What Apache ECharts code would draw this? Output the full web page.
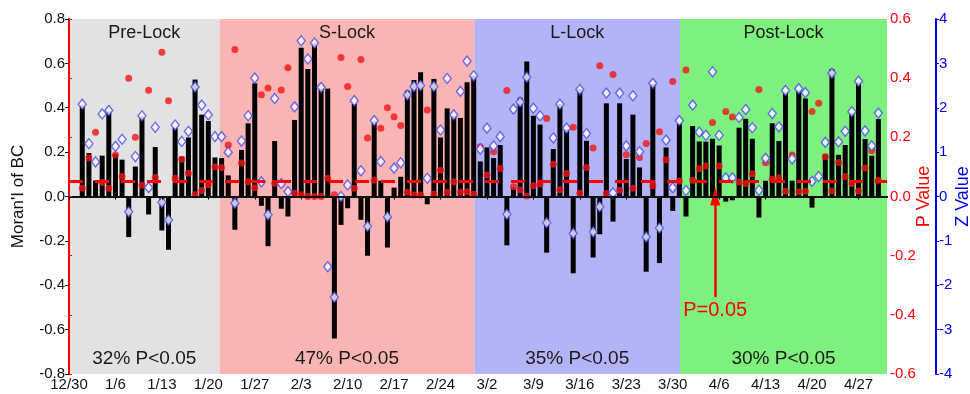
<!DOCTYPE html>
<html><head><meta charset="utf-8">
<script src="https://cdn.jsdelivr.net/npm/echarts@6/dist/echarts.min.js"></script>
<style>html,body{margin:0;padding:0;background:#fff}#c{width:970px;height:394px}</style>
</head><body><div id="c"></div>
<script>
// x positions are days since 12/30; first observation (1/1) is day 2
const firstDay = 2;
const tickLabels = ['12/30','1/6','1/13','1/20','1/27','2/3','2/10','2/17','2/24','3/2','3/9','3/16','3/23','3/30','4/6','4/13','4/20','4/27'];
const moranI = [0.41,0.196,0.072,0.184,0.384,0.193,0.166,-0.183,0.135,0.36,-0.081,0.223,-0.153,-0.24,0.31,0.18,0.266,0.527,0.369,0.34,
 0.176,0.173,0.095,-0.15,0.21,0.33,0.51,-0.042,-0.224,0.25,-0.055,-0.09,0.345,0.67,0.575,0.69,0.486,0.486,-0.64,-0.128,
 -0.053,0.417,-0.105,-0.267,0.339,0.071,-0.23,0.04,0.089,0.477,0.525,0.56,-0.035,0.53,0.266,0.397,0.364,0.354,0.515,0.545,
 0.158,0.221,0.173,0.232,-0.22,0.04,0.445,0.608,0.364,0.324,-0.253,0.214,0.417,0.304,-0.346,0.485,0.251,-0.275,-0.17,0.42,
 -0.113,0.42,0.169,0.369,0.131,-0.339,0.507,-0.30,0.221,-0.065,0.327,-0.09,0.318,0.248,0.247,0.26,0.23,-0.023,-0.017,0.31,
 0.35,0.26,-0.095,0.071,0.33,0.25,0.47,0.071,0.478,0.442,-0.05,0,0.191,0.575,0.188,0.232,0.376,0.515,0.259,0.184,0.349];
const pValue = [0.028,0.13,0.217,0.047,0.028,0.14,0.068,0.40,0.20,0.038,0.359,0.064,0.488,0.324,0.062,0.126,0.079,0.006,0.02,0.04,
 0.10,0.098,0.174,0.497,0.113,0.05,0.03,0.344,0.367,0.045,0.36,0.435,0.011,0.006,0.0,0.0,0.0,0.062,0.006,0.47,
 0.372,0.028,0.463,0.198,0.055,0.231,0.30,0.27,0.24,0.014,0.005,0.005,0.292,0.008,0.089,0.014,0.05,0.014,0.016,0.008,
 0.168,0.073,0.151,0.095,0.358,0.033,0.022,0.002,0.036,0.042,0.264,0.109,0.023,0.078,0.234,0.011,0.098,0.164,0.442,0.01,
 0.412,0.021,0.141,0.028,0.132,0.179,0.036,0.219,0.124,0.389,0.052,0.428,0.055,0.094,0.103,0.25,0.103,0.287,0.269,0.049,
 0.044,0.077,0.362,0.114,0.058,0.063,0.018,0.14,0.016,0.018,0.287,0.315,0.134,0.019,0.115,0.068,0.044,0.019,0.096,0.155,0.055];
const zValue = [2.08,1.19,0.78,1.86,1.94,1.13,1.29,-0.345,0.90,1.82,0.2,1.56,-0.13,-0.53,1.61,1.24,1.47,2.47,2.06,1.84,
 1.35,1.35,1.0,-0.15,1.25,1.82,2.67,0.33,-0.41,2.21,0.29,0.11,2.02,3.51,3.1,3.46,2.46,-1.58,-2.27,0.0,
 0.26,2.16,0.58,-0.67,1.71,0.79,-0.46,0.64,0.76,2.29,2.48,2.5,0.41,2.48,1.5,2.66,1.84,2.37,3.05,2.72,
 1.07,1.54,1.14,1.35,-0.4,1.97,2.13,2.69,1.99,1.82,-0.59,1.32,2.08,1.54,-0.83,2.41,1.42,-0.8,-0.23,2.33,
 0.08,2.33,1.14,2.27,1.01,-0.91,2.55,-0.71,1.27,0.2,1.71,0.135,2.06,1.45,1.38,2.81,1.38,0.42,0.42,1.78,
 1.96,1.55,0.14,0.86,1.87,1.57,2.39,0.85,2.43,2.34,0.34,0.45,1.22,2.78,1.23,1.47,1.91,2.6,1.48,1.14,1.88];
const regionNames = ['Pre-Lock','S-Lock','L-Lock','Post-Lock'];
const regionStats = ['32% P<0.05','47% P<0.05','35% P<0.05','30% P<0.05'];
const regionBounds = [0, 22.7, 61.1, 92.1, 123.3];
const pThreshold = 0.05;
const arrowDay = 97.4, arrowFromP = -0.34, arrowToP = 0.0;

const regionColors = ['#e2e2e2','#f9b4b4','#b3b3f7','#7ef07e'];
const FONT = 'Liberation Sans, Arial, sans-serif';
const xMin = regionBounds[0], xMax = regionBounds[regionBounds.length-1];

const chart = echarts.init(document.getElementById('c'), null, {renderer:'canvas'});
const toXY = arr => arr.map((v,i)=>[firstDay+i, v]);
const areaData = regionNames.map((n,i)=>[
  {name:n, xAxis:regionBounds[i], itemStyle:{color:regionColors[i]}},
  {xAxis:regionBounds[i+1]}
]);
const statData = regionStats.map((n,i)=>[{name:n, xAxis:regionBounds[i]},{xAxis:regionBounds[i+1]}]);

chart.setOption({
  animation:false,
  textStyle:{fontFamily:FONT},
  grid:{left:69, right:83, top:19, bottom:20, containLabel:false, outerBoundsMode:'none'},
  xAxis:[{
    type:'value', min:xMin, max:xMax, interval:7, z:10,
    axisLine:{lineStyle:{color:'#000', width:2}},
    axisTick:{length:3, lineStyle:{color:'#000'}},
    axisLabel:{color:'#111', fontSize:15, margin:3, fontFamily:FONT, showMaxLabel:false,
      formatter:v=>{const i=Math.round(v/7); return Math.abs(v-i*7)<1e-6 && tickLabels[i] ? tickLabels[i] : '';}},
    splitLine:{show:false}
  },{
    type:'value', position:'top', min:xMin, max:xMax, z:10,
    axisLine:{show:true, lineStyle:{color:'#111', width:2}},
    axisTick:{show:false}, axisLabel:{show:false}, splitLine:{show:false}
  }],
  yAxis:[{
    type:'value', min:-0.8, max:0.8, interval:0.2, z:10, position:'left',
    name:"Moran'I of BC", nameLocation:'middle', nameGap:42, nameRotate:90, nameMoveOverlap:false,
    nameTextStyle:{fontSize:17, color:'#111', fontFamily:FONT},
    axisLine:{show:true, lineStyle:{color:'#000', width:2}},
    axisTick:{show:true, length:4, lineStyle:{color:'#000'}},
    axisLabel:{color:'#111', fontSize:15, margin:4, fontFamily:FONT, formatter:v=>v.toFixed(1)},
    splitLine:{show:false}
  },{
    type:'value', min:-0.6, max:0.6, interval:0.2, z:10, position:'right',
    name:'P Value', nameLocation:'middle', nameGap:28, nameMoveOverlap:false,
    nameTextStyle:{fontSize:18, color:'#f00', fontFamily:FONT},
    axisLine:{show:true, lineStyle:{color:'#f00', width:2}},
    axisTick:{show:true, length:3, lineStyle:{color:'#f00'}},
    axisLabel:{color:'#f00', fontSize:15, margin:3, fontFamily:FONT, formatter:v=>v.toFixed(1)},
    splitLine:{show:false}
  },{
    type:'value', min:-4, max:4, interval:1, z:10, position:'right', offset:49,
    name:'Z Value', nameLocation:'middle', nameGap:18, nameMoveOverlap:false,
    nameTextStyle:{fontSize:18, color:'#0000ee', fontFamily:FONT},
    axisLine:{show:true, lineStyle:{color:'#0000ee', width:2}},
    axisTick:{show:true, length:3, lineStyle:{color:'#0000ee'}},
    axisLabel:{color:'#0000ee', fontSize:15, margin:3, fontFamily:FONT},
    splitLine:{show:false}
  }],
  series:[
    {type:'line', data:[], z:0, silent:true,
     markArea:{silent:true, data:areaData,
       label:{show:true, position:'insideTop', distance:5, fontSize:18, color:'#1a1a1a', fontFamily:FONT}}},
    {type:'line', data:[], z:0, silent:true,
     markArea:{silent:true, itemStyle:{color:'rgba(0,0,0,0)'}, data:statData,
       label:{show:true, position:'insideBottom', distance:6, fontSize:19, color:'#1a1a1a', fontFamily:FONT}}},
    {type:'line', data:[], yAxisIndex:1, z:1, silent:true,
     markLine:{silent:true, symbol:'none', label:{show:false},
       lineStyle:{color:'#f00', width:3, type:[14,12]}, data:[{yAxis:pThreshold}]}},
    {name:"Moran'I", type:'bar', data:toXY(moranI), barWidth:5, z:2,
     itemStyle:{color:'#000'}},
    {name:'P', type:'scatter', yAxisIndex:1, data:toXY(pValue), symbol:'circle', symbolSize:7, z:3,
     itemStyle:{color:'#f21515'}},
    {name:'Z', type:'scatter', yAxisIndex:2, data:toXY(zValue), symbol:'diamond', symbolSize:[8,10], z:4,
     itemStyle:{color:'#fff', borderColor:'#4b4bf0', borderWidth:1.4}},
    {type:'line', data:[], yAxisIndex:1, z:5, silent:true,
     markLine:{silent:true, symbol:'none',
       lineStyle:{color:'#f00', width:2.5, type:'solid'},
       label:{show:true, position:'start', distance:3, formatter:'P=0.05', fontSize:20, color:'#f00', fontFamily:FONT},
       data:[[{coord:[arrowDay, arrowFromP]},{coord:[arrowDay, arrowToP]}]]},
     markPoint:{silent:true, symbol:'path://M5,0 L10,18 L0,18 Z', symbolSize:[10,18],
       itemStyle:{color:'#f00'}, label:{show:false},
       data:[{coord:[arrowDay, arrowToP]}]}}
  ]
});
</script></body></html>
